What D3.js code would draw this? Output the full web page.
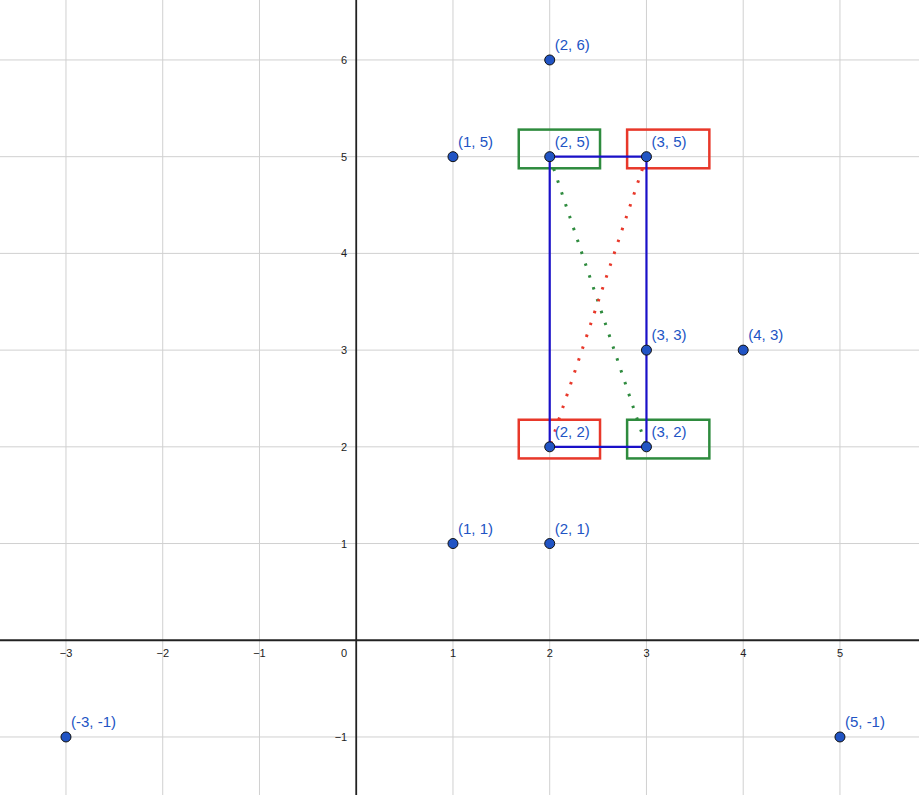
<!DOCTYPE html>
<html><head><meta charset="utf-8">
<script src="https://cdn.jsdelivr.net/npm/d3@7"></script>
<style>body{margin:0;background:#fff}svg{display:block}</style>
</head><body>
<svg id="chart" width="919" height="795"></svg>
<script>
// points (x, y)
const points = [[2,6],[1,5],[2,5],[3,5],[3,3],[4,3],[2,2],[3,2],[1,1],[2,1],[-3,-1],[5,-1]];
const xTicks = [-3,-2,-1,1,2,3,4,5];
const yTicks = [-1,1,2,3,4,5,6];
// rectangle corners
const rectPath = [[2,5],[3,5],[3,2],[2,2],[2,5]];
// dotted diagonals
const diagonals = [
  {from:[2,5], to:[3,2], color:'#2e8b3e'},
  {from:[3,5], to:[2,2], color:'#e8382a'}
];
// highlight boxes [x0, x1, y0, y1]
const boxes = [
  {b:[1.68,2.52,4.88,5.28], color:'#2e8b3e'},
  {b:[2.8,3.65,4.88,5.28], color:'#e8382a'},
  {b:[1.68,2.52,1.88,2.28], color:'#e8382a'},
  {b:[2.8,3.65,1.88,2.28], color:'#2e8b3e'}
];

const svg = d3.select('#chart');
const W = 919, H = 795;
const x = d3.scaleLinear().domain([-3.682, 5.817]).range([0, W]);
const y = d3.scaleLinear().domain([6.62, -1.6]).range([0, H]);

// grid
const grid = svg.append('g').attr('stroke', '#d0d0d0').attr('stroke-width', 1);
d3.range(-3, 6).filter(d => d !== 0).forEach(d => {
  grid.append('line').attr('x1', x(d)).attr('x2', x(d)).attr('y1', 0).attr('y2', H);
});
d3.range(-1, 7).filter(d => d !== 0).forEach(d => {
  grid.append('line').attr('y1', y(d)).attr('y2', y(d)).attr('x1', 0).attr('x2', W);
});

// axes
svg.append('line').attr('x1', 0).attr('x2', W).attr('y1', y(0)).attr('y2', y(0))
  .attr('stroke', '#222').attr('stroke-width', 1.8);
svg.append('line').attr('x1', x(0)).attr('x2', x(0)).attr('y1', 0).attr('y2', H)
  .attr('stroke', '#222').attr('stroke-width', 1.8);

const tf = d => d < 0 ? '\u2212' + Math.abs(d) : d;
svg.selectAll('.xt').data(xTicks).join('text')
  .attr('x', d => x(d)).attr('y', y(0) + 17).attr('text-anchor', 'middle')
  .attr('font-family', 'Helvetica, Arial, sans-serif').attr('font-size', 11).attr('fill', '#222')
  .text(tf);
svg.selectAll('.yt').data(yTicks).join('text')
  .attr('x', x(0) - 9).attr('y', d => y(d) + 4).attr('text-anchor', 'end')
  .attr('font-family', 'Helvetica, Arial, sans-serif').attr('font-size', 11).attr('fill', '#222')
  .text(tf);
svg.append('text').attr('x', x(0) - 9).attr('y', y(0) + 17).attr('text-anchor', 'end')
  .attr('font-family', 'Helvetica, Arial, sans-serif').attr('font-size', 11).attr('fill', '#222').text('0');

// boxes
svg.selectAll('.box').data(boxes).join('rect')
  .attr('x', d => x(d.b[0])).attr('y', d => y(d.b[3]))
  .attr('width', d => x(d.b[1]) - x(d.b[0])).attr('height', d => y(d.b[2]) - y(d.b[3]))
  .attr('fill', 'none').attr('stroke', d => d.color).attr('stroke-width', 2.5);

// diagonals
svg.selectAll('.diag').data(diagonals).join('line')
  .attr('x1', d => x(d.from[0])).attr('y1', d => y(d.from[1]))
  .attr('x2', d => x(d.to[0])).attr('y2', d => y(d.to[1]))
  .attr('stroke', d => d.color).attr('stroke-width', 3)
  .attr('stroke-dasharray', '2.5 10').attr('stroke-linecap', 'butt');

// rectangle
svg.append('path').attr('d', d3.line().x(d => x(d[0])).y(d => y(d[1]))(rectPath))
  .attr('fill', 'none').attr('stroke', '#1a10c8').attr('stroke-width', 2.2);

// points
svg.selectAll('.pt').data(points).join('circle')
  .attr('cx', d => x(d[0])).attr('cy', d => y(d[1])).attr('r', 5)
  .attr('fill', '#2154c4').attr('stroke', '#111').attr('stroke-width', 1);
svg.selectAll('.lbl').data(points).join('text')
  .attr('x', d => x(d[0]) + 5).attr('y', d => y(d[1]) - 10)
  .attr('font-family', 'Helvetica, Arial, sans-serif').attr('font-size', 15).attr('fill', '#2154c4')
  .text(d => `(${d[0]}, ${d[1]})`);
</script>
</body></html>
